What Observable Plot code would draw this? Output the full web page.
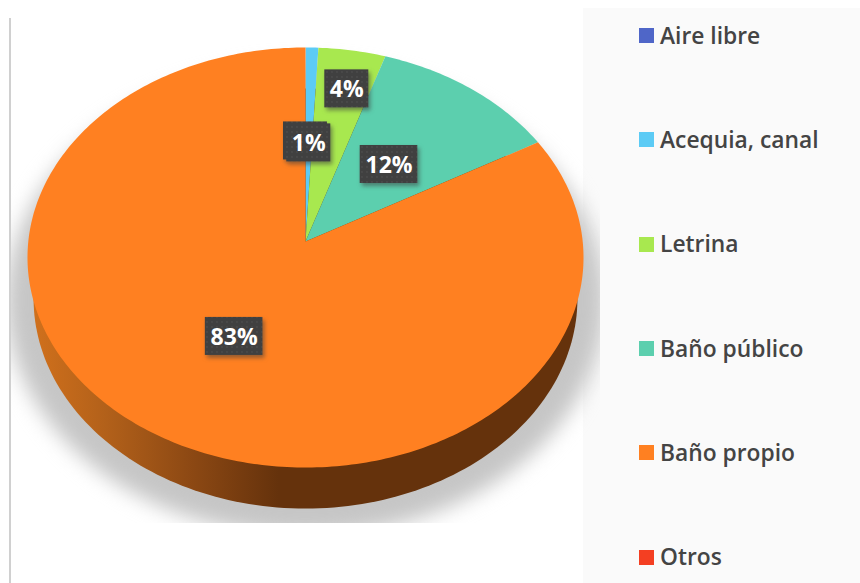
<!DOCTYPE html>
<html><head><meta charset="utf-8">
<script src="https://cdn.jsdelivr.net/npm/d3@7"></script>
<script src="https://cdn.jsdelivr.net/npm/@observablehq/plot@0.6"></script>
<style>
html,body{margin:0;padding:0;background:#fff;width:860px;height:583px;overflow:hidden}
#wrap{position:relative;width:860px;height:583px;font-family:"Open Sans",sans-serif}
#rule{position:absolute;left:9px;top:18px;width:2px;height:565px;background:#d0d0d0}
#panel{position:absolute;left:583px;top:8px;width:277px;height:575px;background:#fafafa}
#chart{position:absolute;left:0;top:0}
#legend{position:absolute;left:639px;top:-17px;height:626px;display:flex;flex-direction:column;justify-content:space-around;color:#444;font-size:22.8px;font-weight:600}
#legend div{display:flex;align-items:center;gap:6px;height:30px;white-space:nowrap}
#legend i{display:block;width:15px;height:15px;margin-top:1px}
svg text{font-family:"Open Sans",sans-serif}
</style></head><body>
<div id="wrap"><div id="rule"></div><div id="panel"></div><div id="chart"></div><div id="legend"></div></div>
<script>
const categories = ["Aire libre","Acequia, canal","Letrina","Baño público","Baño propio","Otros"];
const shares = [0, 0.8, 4.2, 11.8, 83.2, 0];
const colors = ["#4f66c8","#5ccbf5","#a8e84f","#5ccfae","#ff8021","#f43f22"];
const labelRadii = [0.50, 0.49, 0.79, 0.49, 0.505, 0];
const labelTurns = [0, 0, 0.003, 0, -0.002, 0];

const tilt = 0.0762;
const project = (theta, r = 1) => {
  const w = 1 + tilt * r * Math.cos(theta);
  return {u: r * Math.sin(theta) / w, v: r * Math.cos(theta) / w};
};
let cum = 0;
const slices = categories.map((name, i) => {
  const a0 = cum / 100 * 2 * Math.PI; cum += shares[i];
  const a1 = cum / 100 * 2 * Math.PI;
  return {name, value: shares[i], a0, a1, r: labelRadii[i], turn: labelTurns[i], label: Math.round(shares[i]) + "%"};
});
const wedges = slices.filter(s => s.value > 0).flatMap(s => {
  const n = Math.max(2, Math.ceil((s.a1 - s.a0) * 60));
  const arc = d3.range(n + 1).map(k => project(s.a0 + (s.a1 - s.a0) * k / n));
  return [{u: 0, v: 0}, ...arc, {u: 0, v: 0}].map(p => ({...p, name: s.name}));
});
const ring = (cu, cv, ru, rv) => d3.range(241).map(k => ({
  u: cu + ru * Math.cos(k / 240 * 2 * Math.PI),
  v: cv + rv * Math.sin(k / 240 * 2 * Math.PI)
}));
const wall = ring(0, -0.273, 0.981, 1.006);
const shadow = ring(0, -0.283, 1.08, 1.125);
const labelled = slices.filter(s => s.r > 0).map(s => {
  const p = project((s.a0 + s.a1) / 2 + s.turn * 2 * Math.PI, s.r);
  const half = (s.label.length >= 3 ? 28.8 : 22) / 277.2;
  return {...p, ...s, half, vh: 19 / 208.8};
});
const withStyle = css => (index, scales, values, dims, ctx, next) => {
  const g = next(index, scales, values, dims, ctx);
  Object.assign(g.style, css);
  return g;
};
const defs = () => {
  const ns = "http://www.w3.org/2000/svg";
  const d = document.createElementNS(ns, "defs");
  d.innerHTML = `
    <linearGradient id="wallFill" x1="0" x2="1" y1="0" y2="0">
      <stop offset="0" stop-color="#d0701c"/>
      <stop offset="0.13" stop-color="#b3611a"/>
      <stop offset="0.30" stop-color="#8a4713"/>
      <stop offset="0.45" stop-color="#65320c"/>
      <stop offset="1" stop-color="#65320c"/>
    </linearGradient>
    <pattern id="dots" width="5" height="5" patternUnits="userSpaceOnUse">
      <rect width="5" height="5" fill="#404040"/>
      <circle cx="2" cy="2" r="0.9" fill="#4c4c4c"/>
    </pattern>
    <clipPath id="shadowClip"><rect x="11" y="0" width="589" height="523"/></clipPath>`;
  return d;
};
const plot = Plot.plot({
  width: 860, height: 583, margin: 0,
  style: {background: "transparent", overflow: "visible"},
  x: {axis: null, domain: [-1, 1], range: [27.8, 582.2]},
  y: {axis: null, domain: [-1, 1], range: [449.8, 32.2]},
  color: {domain: categories, range: colors},
  marks: [
    defs,
    Plot.line(shadow, {x: "u", y: "v", fill: "#c6c6c6", stroke: "none",
      render: (i, s, v, d, c, n) => {
        const g = n(i, s, v, d, c);
        g.style.filter = "blur(10px)";
        const w = document.createElementNS("http://www.w3.org/2000/svg", "g");
        w.setAttribute("clip-path", "url(#shadowClip)");
        w.appendChild(g);
        return w;
      }}),
    Plot.line(wall, {x: "u", y: "v", fill: "url(#wallFill)", stroke: "none"}),
    Plot.line(wedges, {x: "u", y: "v", z: "name", fill: "name", stroke: "none"}),
    Plot.rect(labelled, {
      x1: d => d.u - d.half, x2: d => d.u + d.half,
      y1: d => d.v - d.vh, y2: d => d.v + d.vh,
      fill: "url(#dots)",
      render: withStyle({filter: "drop-shadow(2px 3px 2px rgba(60,60,60,.55))"})
    }),
    Plot.text(labelled.filter(d => d.value > 0), {
      x: "u", y: "v", dy: 1, text: "label", fill: "white", fontSize: 23, fontWeight: 700
    })
  ]
});
document.getElementById("chart").appendChild(plot);
const lg = d3.select("#legend").selectAll("div").data(categories).join("div");
lg.append("i").style("background", (d, i) => colors[i]);
lg.append("span").text(d => d);
</script>
</body></html>
